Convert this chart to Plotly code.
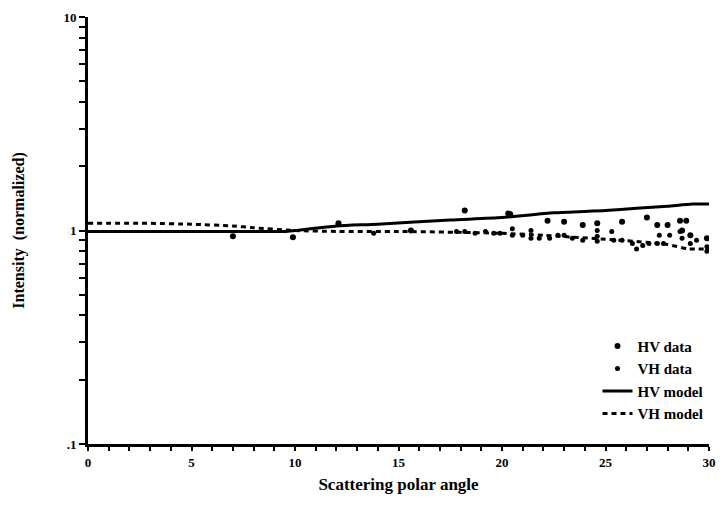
import plotly.graph_objects as go

# ---- data ----
model_angle = [0, 5, 8, 9.5, 10, 12, 14, 17.5, 20, 22.5, 25, 26.5, 28, 29.2, 30]
hv_model = [0.99, 0.99, 0.99, 0.99, 1.0, 1.05, 1.07, 1.12, 1.15, 1.21, 1.24, 1.27, 1.30, 1.33, 1.33]

vh_model_angle = [0, 3, 5, 7, 8, 10, 12, 15, 18, 20, 22, 25, 27, 28, 29, 30]
vh_model = [1.08, 1.08, 1.07, 1.05, 1.03, 1.0, 0.99, 0.99, 0.98, 0.97, 0.95, 0.91, 0.88, 0.86, 0.82, 0.82]

hv_angle = [7.0, 9.9, 12.1, 15.6, 18.2, 20.3, 20.4, 22.2, 23.0, 23.9, 24.6, 25.8,
            27.0, 27.5, 28.0, 28.6, 28.9, 28.7, 29.1, 29.9]
hv_data = [0.94, 0.93, 1.08, 1.0, 1.24, 1.20, 1.19, 1.11, 1.10, 1.06, 1.08, 1.10,
           1.15, 1.06, 1.06, 1.11, 1.11, 1.0, 0.95, 0.92]

vh_angle = [13.8, 17.8, 18.2, 18.7, 19.2, 19.6, 19.9, 20.5, 20.5, 21.0, 21.4, 21.4,
            21.8, 22.3, 22.7, 23.0, 23.4, 23.9, 24.6, 24.6, 24.6, 25.3, 25.4, 25.8,
            26.3, 26.5, 26.8, 27.1, 27.5, 27.6, 27.8, 28.1, 28.6, 28.7, 29.1, 29.4,
            29.9, 29.9]
vh_data = [0.97, 0.99, 0.99, 0.97, 0.99, 0.97, 0.97, 1.02, 0.95, 0.95, 1.0, 0.92,
           0.92, 0.92, 0.95, 0.95, 0.92, 0.90, 1.0, 0.94, 0.89, 0.99, 0.90, 0.90,
           0.87, 0.82, 0.85, 0.87, 0.87, 0.95, 0.87, 0.95, 0.99, 0.92, 0.87, 0.90,
           0.84, 0.80]

x_ticks = list(range(0, 31))
x_ticktext = [str(v) if v % 5 == 0 else "" for v in x_ticks]
y_ticks = [0.1 * k for k in range(1, 10)] + [1.0 * k for k in range(1, 10)] + [10]
y_ticktext = [".1"] + [""] * 8 + ["1"] + [""] * 8 + ["10"]

FONT = "Liberation Serif"

fig = go.Figure()
fig.add_trace(go.Scatter(x=hv_angle, y=hv_data, mode="markers", name="<b>HV data</b>",
                         marker=dict(color="black", size=6, symbol="circle")))
fig.add_trace(go.Scatter(x=vh_angle, y=vh_data, mode="markers", name="<b>VH data</b>",
                         marker=dict(color="black", size=5, symbol="circle")))
fig.add_trace(go.Scatter(x=model_angle, y=hv_model, mode="lines", name="<b>HV model</b>",
                         line=dict(color="black", width=3, shape="spline", smoothing=0.6)))
fig.add_trace(go.Scatter(x=vh_model_angle, y=vh_model, mode="lines", name="<b>VH model</b>",
                         line=dict(color="black", width=3, dash="5px,4px", shape="spline", smoothing=0.6)))

fig.update_layout(
    width=726, height=513,
    margin=dict(l=88, r=17, t=17, b=69, autoexpand=False),
    paper_bgcolor="white", plot_bgcolor="white",
    font=dict(family=FONT, color="black", size=13),
    legend=dict(xref="container", yref="container", x=0.823, xanchor="left",
                y=0.357, yanchor="top",
                bgcolor="rgba(0,0,0,0)", font=dict(family=FONT, size=15),
                itemwidth=30, tracegroupgap=0),
    xaxis=dict(range=[0, 30], tickvals=x_ticks, ticktext=x_ticktext,
               ticks="outside", ticklen=4, tickwidth=2, tickcolor="black",
               showline=True, linewidth=3, linecolor="black",
               showgrid=False, zeroline=False,
               tickfont=dict(family=FONT, size=13, weight="bold"),
               title=dict(text="<b>Scattering polar angle</b>",
                          font=dict(family=FONT, size=17), standoff=10)),
    yaxis=dict(type="log", range=[-1, 1], tickvals=y_ticks, ticktext=y_ticktext,
               ticks="outside", ticklen=6, tickwidth=2, tickcolor="black",
               showline=True, linewidth=3, linecolor="black",
               showgrid=False, zeroline=False,
               tickfont=dict(family=FONT, size=13, weight="bold"),
               title=dict(text="<b>Intensity  (normalized)</b>",
                          font=dict(family=FONT, size=16), standoff=35)),
)

fig.write_html("out.html")
